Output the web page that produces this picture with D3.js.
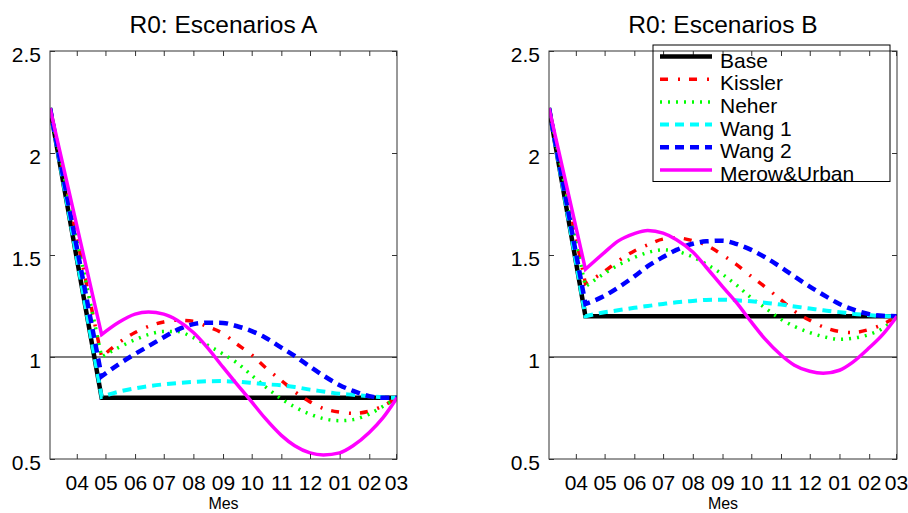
<!DOCTYPE html>
<html>
<head>
<meta charset="utf-8">
<script src="https://cdn.jsdelivr.net/npm/d3@7"></script>
<style>
  html, body { margin: 0; padding: 0; background: #fff; }
  svg { display: block; font-family: "Liberation Sans", Arial, Helvetica, sans-serif; }
</style>
</head>
<body>
<svg id="chart" width="908" height="513"></svg>
<script>
// Sample dates (post-intervention drop, then semi-monthly)
const datesA = ["2020-03-04","2020-04-27","2020-05-15","2020-06-01","2020-06-15","2020-07-01","2020-07-15",
  "2020-08-01","2020-08-15","2020-09-01","2020-09-15","2020-10-01","2020-10-15","2020-11-01","2020-11-15",
  "2020-12-01","2020-12-15","2021-01-01","2021-01-15","2021-02-01","2021-02-15","2021-03-02"];
const datesB = ["2020-03-04","2020-04-11","2020-05-01","2020-05-15","2020-06-01","2020-06-15","2020-07-01","2020-07-15",
  "2020-08-01","2020-08-15","2020-09-01","2020-09-15","2020-10-01","2020-10-15","2020-11-01","2020-11-15",
  "2020-12-01","2020-12-15","2021-01-01","2021-01-15","2021-02-01","2021-02-15","2021-03-02"];

// Escenarios A
const baseA    = [2.22, 0.80, 0.80, 0.80, 0.80, 0.80, 0.80, 0.80, 0.80, 0.80, 0.80, 0.80, 0.80, 0.80, 0.80, 0.80, 0.80, 0.80, 0.80, 0.80, 0.80, 0.80];
const kisslerA = [2.22, 1.00, 1.07, 1.12, 1.15, 1.172, 1.18, 1.175, 1.15, 1.115, 1.065, 1.01, 0.95, 0.885, 0.83, 0.78, 0.748, 0.73, 0.724, 0.735, 0.76, 0.80];
const neherA   = [2.22, 1.00, 1.047, 1.085, 1.11, 1.125, 1.125, 1.095, 1.06, 1.015, 0.973, 0.91, 0.855, 0.795, 0.755, 0.72, 0.698, 0.688, 0.693, 0.72, 0.757, 0.80];
const wang1A   = [2.22, 0.805, 0.83, 0.846, 0.857, 0.866, 0.872, 0.878, 0.881, 0.882, 0.879, 0.873, 0.867, 0.861, 0.853, 0.84, 0.831, 0.82, 0.815, 0.808, 0.802, 0.80];
const wang2A   = [2.22, 0.905, 0.965, 1.015, 1.053, 1.097, 1.133, 1.161, 1.168, 1.167, 1.152, 1.127, 1.096, 1.046, 1.005, 0.953, 0.909, 0.862, 0.834, 0.808, 0.80, 0.80];
const merowA   = [2.22, 1.11, 1.17, 1.21, 1.22, 1.21, 1.18, 1.12, 1.05, 0.95, 0.87, 0.78, 0.70, 0.616, 0.565, 0.53, 0.52, 0.53, 0.565, 0.63, 0.70, 0.80];

// Escenarios B
const baseB    = [2.22, 1.20, 1.20, 1.20, 1.20, 1.20, 1.20, 1.20, 1.20, 1.20, 1.20, 1.20, 1.20, 1.20, 1.20, 1.20, 1.20, 1.20, 1.20, 1.20, 1.20, 1.20, 1.20];
const kisslerB = [2.22, 1.36, 1.42, 1.47, 1.52, 1.55, 1.578, 1.584, 1.57, 1.548, 1.50, 1.455, 1.395, 1.345, 1.28, 1.225, 1.18, 1.148, 1.125, 1.12, 1.135, 1.16, 1.20];
const neherB   = [2.22, 1.345, 1.41, 1.45, 1.488, 1.512, 1.525, 1.518, 1.49, 1.455, 1.405, 1.355, 1.29, 1.242, 1.185, 1.15, 1.12, 1.10, 1.087, 1.092, 1.11, 1.14, 1.20];
const wang1B   = [2.22, 1.20, 1.219, 1.229, 1.241, 1.25, 1.26, 1.268, 1.275, 1.28, 1.281, 1.278, 1.273, 1.266, 1.257, 1.248, 1.238, 1.229, 1.22, 1.212, 1.205, 1.201, 1.20];
const wang2B   = [2.22, 1.26, 1.30, 1.34, 1.395, 1.445, 1.49, 1.525, 1.555, 1.567, 1.57, 1.555, 1.525, 1.49, 1.44, 1.395, 1.345, 1.305, 1.26, 1.233, 1.21, 1.202, 1.20];
const merowB   = [2.22, 1.43, 1.513, 1.568, 1.605, 1.62, 1.607, 1.575, 1.515, 1.44, 1.345, 1.27, 1.172, 1.09, 1.01, 0.96, 0.93, 0.92, 0.935, 0.975, 1.045, 1.11, 1.20];

const seriesNames = ["Base", "Kissler", "Neher", "Wang 1", "Wang 2", "Merow&Urban"];
const yTicks = [0.5, 1, 1.5, 2, 2.5];
const xDomain = ["2020-03-04", "2021-03-02"];
const xTickStart = "2020-04-01";
const titles = ["R0: Escenarios A", "R0: Escenarios B"];
const xLabel = "Mes";

// Line styles per series
const colors = ["#000000", "#ff0000", "#00ff00", "#00ffff", "#0000ff", "#ff00ff"];
const widths = [4.5, 3.5, 3.5, 4, 4.5, 3.5];
const dashes = [null, "8,10,2,9", "2,6", "9,6", "9,6", null];

const parse = d3.utcParse("%Y-%m-%d");
const svg = d3.select("#chart");
const plotTop = 51, plotBottom = 459;

const panels = [
  { title: titles[0], left: 50,  right: 397, dates: datesA, values: [baseA, kisslerA, neherA, wang1A, wang2A, merowA], legend: false },
  { title: titles[1], left: 549, right: 897, dates: datesB, values: [baseB, kisslerB, neherB, wang1B, wang2B, merowB], legend: true }
];

panels.forEach((p, pi) => {
  const x = d3.scaleUtc().domain(xDomain.map(parse)).range([p.left, p.right]);
  const y = d3.scaleLinear().domain([0.5, 2.5]).range([plotBottom, plotTop]);
  const months = d3.utcMonth.range(parse(xTickStart), x.domain()[1]);
  const g = svg.append("g");

  const clipId = "clip" + pi;
  svg.append("clipPath").attr("id", clipId)
    .append("rect").attr("x", p.left).attr("y", plotTop).attr("width", p.right - p.left).attr("height", plotBottom - plotTop);

  // R0 = 1 reference
  g.append("line")
    .attr("x1", p.left).attr("x2", p.right)
    .attr("y1", y(1)).attr("y2", y(1))
    .attr("stroke", "#000").attr("stroke-width", 1.2);

  // Scenario curves: straight drop to the intervention end, smooth afterwards
  const smooth = d3.line().x(d => x(d.date)).y(d => y(d.v)).curve(d3.curveMonotoneX);
  const lines = g.append("g").attr("clip-path", `url(#${clipId})`);
  p.values.forEach((vals, si) => {
    const pts = vals.map((v, i) => ({ date: parse(p.dates[i]), v }));
    const head = pts[0];
    const tail = smooth(pts.slice(1));
    const d = `M${x(head.date)},${y(head.v)}L` + tail.slice(1);
    lines.append("path")
      .attr("d", d)
      .attr("fill", "none")
      .attr("stroke", colors[si])
      .attr("stroke-width", widths[si])
      .attr("stroke-dasharray", dashes[si])
      .attr("stroke-linejoin", "miter");
  });

  // Axes: inward ticks on all four sides
  const tickLen = 5;
  const axB = g.append("g").attr("transform", `translate(0,${plotBottom})`)
    .call(d3.axisBottom(x).tickValues(months).tickFormat(d3.utcFormat("%m")).tickSizeInner(-tickLen).tickSizeOuter(0).tickPadding(16));
  const axT = g.append("g").attr("transform", `translate(0,${plotTop})`)
    .call(d3.axisTop(x).tickValues(months).tickFormat("").tickSizeInner(-tickLen).tickSizeOuter(0));
  const axL = g.append("g").attr("transform", `translate(${p.left},0)`)
    .call(d3.axisLeft(y).tickValues(yTicks).tickFormat(d3.format("")).tickSizeInner(-tickLen).tickSizeOuter(0).tickPadding(9));
  const axR = g.append("g").attr("transform", `translate(${p.right},0)`)
    .call(d3.axisRight(y).tickValues(yTicks).tickFormat("").tickSizeInner(-tickLen).tickSizeOuter(0));
  [axB, axT, axL, axR].forEach(a => {
    a.select(".domain").remove();
    a.selectAll(".tick line").attr("stroke", "#333");
    a.selectAll("text").attr("fill", "#000").attr("font-size", 21).attr("font-family", null);
  });
  axL.selectAll("text").attr("dy", "0.48em");
  axB.selectAll("text").attr("dy", "0.71em");

  // Frame
  g.append("rect")
    .attr("x", p.left).attr("y", plotTop).attr("width", p.right - p.left).attr("height", plotBottom - plotTop)
    .attr("fill", "none").attr("stroke", "#333").attr("stroke-width", 1);

  // Title and axis label
  g.append("text")
    .attr("x", (p.left + p.right) / 2).attr("y", 33)
    .attr("text-anchor", "middle").attr("font-size", 24.5).text(p.title);
  g.append("text")
    .attr("x", (p.left + p.right) / 2).attr("y", 509)
    .attr("text-anchor", "middle").attr("font-size", 16).text(xLabel);

  if (p.legend) {
    const lg = g.append("g");
    const bx = 653, by = 45, bw = 237, bh = 136.5;
    const rowY = i => 56.5 + i * 22.7;
    seriesNames.forEach((name, si) => {
      lg.append("line")
        .attr("x1", 660).attr("x2", 712)
        .attr("y1", rowY(si)).attr("y2", rowY(si))
        .attr("stroke", colors[si]).attr("stroke-width", widths[si])
        .attr("stroke-dasharray", dashes[si]);
      lg.append("text")
        .attr("x", 720).attr("y", rowY(si) + 11)
        .attr("font-size", 21).text(name);
    });
    lg.append("rect")
      .attr("x", bx).attr("y", by).attr("width", bw).attr("height", bh)
      .attr("fill", "none").attr("stroke", "#000").attr("stroke-width", 1);
  }
});
</script>
</body>
</html>
